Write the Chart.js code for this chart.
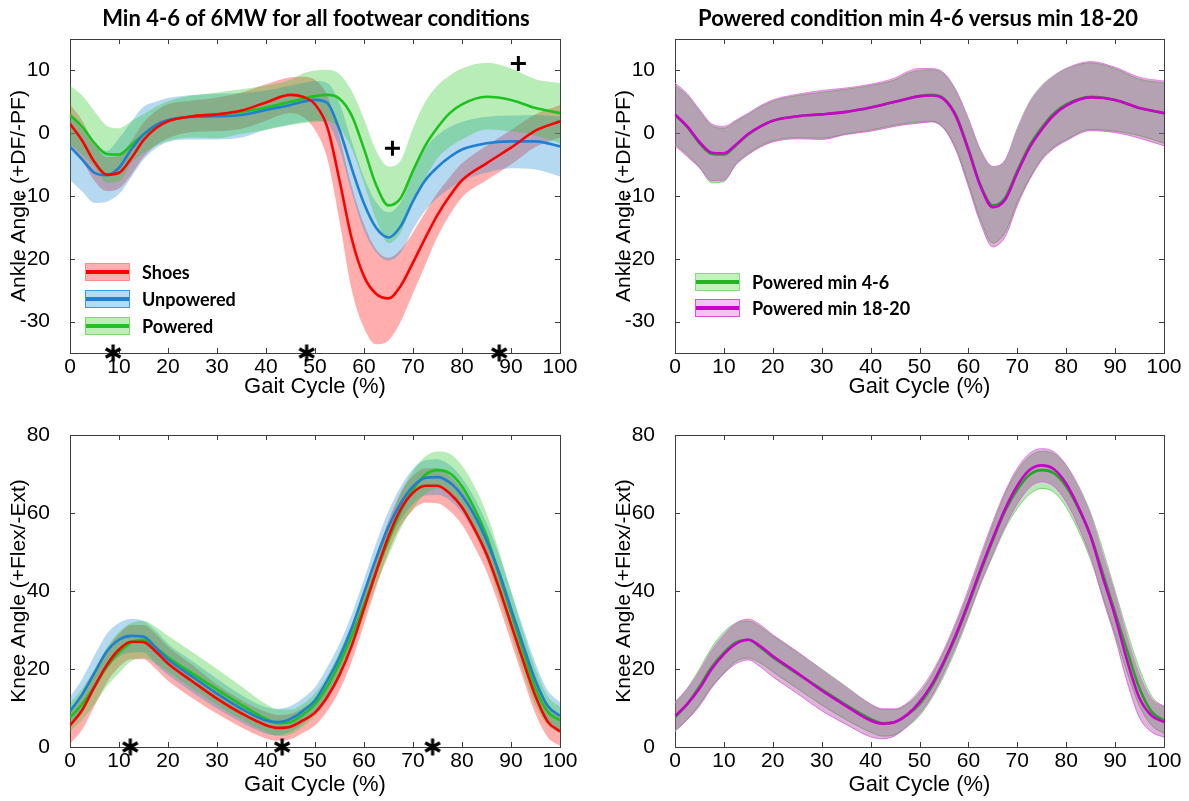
<!DOCTYPE html>
<html><head><meta charset="utf-8">
<script src="https://cdn.jsdelivr.net/npm/chart.js@4.4.1/dist/chart.umd.min.js"></script>
<style>
html,body{margin:0;padding:0;background:#fff;}
#wrap{position:relative;width:1189px;height:801px;overflow:hidden;background:#fff;}
canvas{position:absolute;}
.title{position:absolute;font-family:Lato,'Noto Sans',sans-serif;font-weight:bold;font-size:22px;color:#000;white-space:nowrap;transform:translateX(-50%);line-height:26px;}
.leg{position:absolute;font-family:Lato,'Noto Sans',sans-serif;font-weight:bold;font-size:18px;color:#000;display:flex;align-items:center;white-space:nowrap;height:19px;}
.patch{width:45px;height:18px;position:relative;box-sizing:border-box;margin-right:12px;flex:none;}
.patch span{position:absolute;left:0;right:0;top:50%;height:4px;margin-top:-2px;}
</style></head>
<body><div id="wrap">
<canvas id="c1" width="590" height="400" style="left:0;top:0"></canvas>
<canvas id="c2" width="584" height="400" style="left:605px;top:0"></canvas>
<canvas id="c3" width="590" height="401" style="left:0;top:400px"></canvas>
<canvas id="c4" width="584" height="401" style="left:605px;top:400px"></canvas>
<div class="title" style="left:316px;top:5px">Min 4-6 of 6MW for all footwear conditions</div>
<div class="title" style="left:918px;top:5px">Powered condition min 4-6 versus min 18-20</div>
<div class="leg" style="left:85px;top:262px"><div class="patch" style="background:#fbb1b1;border:1px solid #f88"><span style="background:#ff0000"></span></div>Shoes</div>
<div class="leg" style="left:85px;top:289px"><div class="patch" style="background:#b4dbf4;border:1px solid #3a9ae0"><span style="background:#1f7fd0"></span></div>Unpowered</div>
<div class="leg" style="left:85px;top:316px"><div class="patch" style="background:#bdefb5;border:1px solid #7ad86e"><span style="background:#22c022"></span></div>Powered</div>
<div class="leg" style="left:695px;top:272px"><div class="patch" style="background:#c4f0bf;border:1px solid #86dc7c"><span style="background:#22b422"></span></div>Powered min 4-6</div>
<div class="leg" style="left:695px;top:298px"><div class="patch" style="background:#f2c2f0;border:1px solid #e050e0"><span style="background:#cc00cc"></span></div>Powered min 18-20</div>
</div>
<script>
// ---------- data ----------
const xTicks = [0,10,20,30,40,50,60,70,80,90,100];
const ankleTicks = [-30,-20,-10,0,10];
const kneeTicks = [0,20,40,60,80];

const ankleX = [0,2.5,5,7.5,10,12.5,15,17.5,20,25,30,35,40,45,47.5,50,52.5,55,57.5,60,62.5,65,67.5,70,72.5,75,77.5,80,85,90,95,100];
const ankleShoesMean = [1.5,-1.2,-4.6,-6.6,-6.3,-4.0,-1.1,0.8,1.9,2.7,3.0,3.6,4.9,6.1,5.8,4.6,1.0,-7.5,-16.8,-22.8,-25.6,-26.3,-24.3,-20.6,-16.7,-13.0,-10.0,-7.5,-4.8,-2.3,0.4,1.9];
const ankleShoesUp   = [4.6,2.0,-1.6,-3.8,-3.5,-1.3,1.7,3.5,4.6,5.2,5.7,6.5,7.8,8.9,9.0,8.5,6.0,-0.5,-8.5,-14.5,-18.5,-19.8,-18.5,-15.8,-12.6,-9.5,-7.0,-4.8,-2.0,0.5,3.0,4.5];
const ankleShoesLo   = [-1.6,-4.4,-7.6,-9.2,-8.8,-6.6,-3.8,-1.9,-0.8,0.2,0.3,0.7,2.0,3.2,2.6,0.5,-4.0,-14.0,-25.0,-31.0,-33.6,-33.0,-30.0,-25.5,-21.0,-16.5,-13.0,-10.2,-7.5,-5.0,-2.2,-0.7];
const ankleUnpMean = [-2.1,-4.2,-6.3,-6.7,-5.5,-2.6,-0.2,1.3,2.1,2.6,2.7,2.9,3.7,4.5,5.0,5.3,4.8,0.5,-5.6,-11.2,-15.1,-16.6,-14.8,-10.8,-7.5,-5.4,-3.8,-2.6,-1.6,-1.3,-1.3,-2.1];
const ankleUnpUp   = [3.0,0.5,-2.0,-2.8,-0.8,1.8,4.2,5.0,5.6,6.1,6.3,6.4,6.8,7.6,8.0,8.3,8.0,4.8,-1.3,-7.0,-11.0,-12.6,-11.0,-6.5,-2.5,-0.3,1.0,1.8,2.6,2.8,2.9,2.6];
const ankleUnpLo   = [-7.4,-9.3,-11.1,-10.9,-9.7,-7.0,-4.2,-2.4,-1.4,-1.0,-1.0,-0.7,0.6,1.4,1.8,2.0,1.5,-2.5,-9.5,-15.5,-19.0,-20.3,-19.0,-15.3,-12.3,-10.3,-8.8,-7.6,-6.3,-5.6,-5.8,-6.9];
const anklePowMean = [2.9,1.0,-1.6,-3.3,-3.4,-1.9,-0.2,1.1,2.0,2.7,3.0,3.4,4.1,5.0,5.5,5.9,6.1,5.5,2.8,-2.5,-8.3,-11.5,-10.3,-6.0,-2.0,0.9,3.2,4.6,5.8,5.3,4.0,3.2];
const anklePowUp   = [7.6,6.0,3.5,1.2,0.8,1.9,3.0,4.2,5.1,6.0,6.5,7.0,7.6,8.5,9.5,10.0,10.1,9.4,6.7,2.3,-2.8,-5.3,-4.3,0.8,5.0,7.6,9.2,10.3,11.2,10.3,8.6,8.0];
const anklePowLo   = [-1.7,-3.4,-5.4,-7.9,-7.7,-4.8,-3.2,-2.0,-1.2,-0.7,-0.8,-0.1,0.5,1.3,1.6,1.8,1.9,0.8,-2.5,-8.0,-13.8,-17.5,-15.8,-11.0,-7.2,-4.0,-2.2,-1.0,0.6,0.3,-0.4,-1.6];
const ankleLateMean = [3.0,1.1,-1.4,-3.1,-3.2,-1.8,-0.1,1.1,2.0,2.7,3.0,3.4,4.1,5.0,5.5,5.9,6.0,5.4,2.6,-2.7,-8.5,-11.8,-10.6,-6.3,-2.3,0.6,2.9,4.4,5.7,5.3,4.0,3.2];
const ankleLateUp   = [8.0,6.3,3.8,1.5,1.1,2.1,3.2,4.4,5.3,6.2,6.8,7.2,7.8,8.8,9.8,10.3,10.3,9.6,6.8,2.3,-2.7,-5.3,-4.3,0.5,4.8,7.4,9.1,10.3,11.4,10.5,8.9,8.3];
const ankleLateLo   = [-2.0,-3.7,-5.5,-7.6,-7.5,-5.0,-3.4,-2.2,-1.4,-0.9,-1.0,-0.2,0.3,1.1,1.4,1.6,1.8,0.7,-2.8,-8.5,-14.4,-18.1,-16.5,-11.5,-7.4,-4.3,-2.4,-1.2,0.4,0.1,-0.8,-2.0];

const kneeX = [0,2.5,5,7.5,10,12.5,15,17.5,20,25,30,35,40,42.5,45,47.5,50,52.5,55,57.5,60,62.5,65,67.5,70,72.5,75,77.5,80,82.5,85,87.5,90,92.5,95,97.5,100];
const kneeShoesMean = [5.5,9.5,15.5,21,25,27,26.9,24.5,21.4,16.8,12.4,8.6,5.6,4.9,5.2,6.8,8.8,12.8,18.5,26,35.5,45,54,61,65.2,67,67,65,61.5,56,49.5,41,31.5,22,13,6.5,4];
const kneeShoesUp   = [9.5,13.5,19.5,25,29,31.3,31.3,29,25.8,21,16,12,9,8.2,8.5,10,12.3,16.5,22.5,30,39.5,49,58,65.3,69.6,71.5,71.5,69.5,66,60.5,54,45.5,36,26.5,17.5,10.5,7.8];
const kneeShoesLo   = [0.8,4.5,10.5,16.5,20.5,22.5,22.5,20,17,12.5,8.5,5,2.2,1.6,2,3.6,5.5,9.2,14.5,22,31.5,41,50,56.7,60.8,62.6,62.5,60.5,57,51.5,45,36.5,27,17.5,8.5,2.5,0.3];
const kneeUnpMean = [9.2,13.5,19,24.5,27.5,28.5,28.3,25.5,22.5,18,13.7,9.8,6.8,6.4,7.2,9.2,12,17,23,30.5,39.5,48.5,56.5,62.5,66.8,69,69.2,67.8,64.5,59.5,53,45,35.5,26,17,10.5,8];
const kneeUnpUp   = [12.8,17.5,23.5,29,31.8,32.8,32.3,29.8,26.5,22,17.5,13.3,10.2,9.8,10.5,12.5,15.3,20.5,26.5,34,43,52.3,60.5,66.8,71.3,73.5,73.8,72.3,69,64,57.5,49.5,40,30.5,21.5,14.5,11.5];
const kneeUnpLo   = [5.6,9.5,14.5,20,23.2,24.2,24.3,21.2,18.5,14,9.9,6.3,3.4,3,3.9,5.9,8.7,13.5,19.5,27,36,44.7,52.5,58.2,62.3,64.5,64.6,63.3,60,55,48.5,40.5,31,21.5,12.5,6.5,4.5];
const kneePowMean = [7.6,11,15.5,20.5,24.2,26.8,27.5,25.5,23,18.8,14.8,10.8,7.2,6.1,6.4,8.2,11,15.5,21.5,28.5,36.5,45,53,60.5,66,69.8,71,70.2,66.8,61.2,54.2,44.5,34.5,24.5,15,9,6.8];
const kneePowUp   = [11.2,15,20,25.5,29.5,31.8,32.3,30.8,28.5,24.3,20,15.5,11,9.6,9.6,11,13.8,18.3,24.5,31.5,39.5,48.3,57,65,70.8,74.5,75.8,75.2,72.2,67,60,50.5,40,29.5,20,13,10.3];
const kneePowLo   = [4,7,11,15.5,19,22,22.8,21.5,19.3,15,10.8,7,3.8,2.8,3.2,5.2,8,12.5,18.3,25.3,33.3,41.7,49,56,61.2,64.8,66.3,65.3,61.5,55.5,48,38.5,29,19,10.5,5.5,3.5];
const kneeLateMean = [7.9,11,15,20,23.8,26.5,27.5,25.8,23.3,19,14.5,10.5,6.8,6.0,6.4,8.3,11.5,16,22,29,37,45.5,53.5,61,67,71,72.2,71.2,67.5,61.5,54,43.5,33.5,22,12.5,8,6.4];
const kneeLateUp   = [11.5,15,19.5,24.8,28.8,31.8,32.8,31.3,28.8,24.5,19.8,15.3,11,9.8,9.8,11.3,14.5,19,25,32.3,40.5,49.3,57.8,65.5,71.5,75.3,76.5,75.7,72.3,66.7,59.5,49.3,39.3,28,18.5,12.3,10.5];
const kneeLateLo   = [4.2,7,10.5,15.2,18.8,21.4,22.3,20.5,18,13.7,9.3,5.8,2.6,2.1,2.9,5.3,8.5,13,19,26,33.8,42,49.5,56.5,62.3,66.5,68,66.8,62.8,56.5,48.7,38,28,16.5,7.5,3.8,2.5];

// significance markers
const ankleStarX = [8.8,48.3,87.6];
const anklePlus = [[65.8,-2.4],[91.5,11.1]];
const kneeStarX = [12.3,43.3,74];

// ---------- helpers ----------
const pts = (xs, ys) => xs.map((x,i)=>({x:x, y:ys[i]}));
function band(xs, up, lo, fill, edge, order){
  return [
    {data:pts(xs,up), fill:'+1', backgroundColor:fill, borderColor:edge, borderWidth:edge?1:0, pointRadius:0, cubicInterpolationMode:'monotone', order:order},
    {data:pts(xs,lo), fill:false, borderColor:edge||'rgba(0,0,0,0)', borderWidth:edge?1:0, pointRadius:0, cubicInterpolationMode:'monotone', order:order}
  ];
}
function line(xs, ys, color, order){
  return {data:pts(xs,ys), fill:false, borderColor:color, borderWidth:2.6, pointRadius:0, cubicInterpolationMode:'monotone', order:order};
}
// asterisk glyph used as point style
const starImg = (function(){
  const c = document.createElement('canvas'); c.width = 20; c.height = 20;
  const g = c.getContext('2d'); g.strokeStyle = '#000'; g.lineWidth = 3.2; g.lineCap = 'butt';
  g.beginPath();
  for (const ang of [90, 30, 150]) {
    const r = ang*Math.PI/180, dx = Math.cos(r)*8.5, dy = Math.sin(r)*8.5;
    g.moveTo(10-dx, 10-dy); g.lineTo(10+dx, 10+dy);
  }
  g.stroke();
  return c;
})();
function marks(list, style){
  return {type:'scatter', data:list.map(p=>({x:p[0], y:p[1]})), pointStyle:style, pointRadius:7.5, borderColor:'#000', backgroundColor:'#000', borderWidth:3, clip:false, order:0};
}

const boxPlugin = {
  id:'axbox',
  beforeDatasetsDraw(chart){
    const ctx = chart.ctx, a = chart.chartArea, xs = chart.scales.x, ys = chart.scales.y;
    ctx.save();
    ctx.strokeStyle = '#3c3c3c'; ctx.lineWidth = 1;
    ctx.beginPath();
    xs.ticks.forEach(t=>{ const p = Math.round(xs.getPixelForValue(t.value))+0.5;
      ctx.moveTo(p,a.bottom); ctx.lineTo(p,a.bottom-5); ctx.moveTo(p,a.top); ctx.lineTo(p,a.top+5); });
    ys.ticks.forEach(t=>{ const p = Math.round(ys.getPixelForValue(t.value))+0.5;
      ctx.moveTo(a.left,p); ctx.lineTo(a.left+5,p); ctx.moveTo(a.right,p); ctx.lineTo(a.right-5,p); });
    ctx.stroke();
    ctx.strokeRect(Math.round(a.left)+0.5, Math.round(a.top)+0.5, Math.round(a.right-a.left), Math.round(a.bottom-a.top));
    ctx.restore();
  }
};

const tickFont = {family:"'Liberation Sans', Arial, sans-serif", size:21};
const xTitleFont = {family:"'Liberation Sans', Arial, sans-serif", size:22};
const yTitleFont = {family:"'Liberation Sans', Arial, sans-serif", size:21};

function makeChart(id, datasets, yMin, yMax, yTicks, yTitle, pad, xH){
  return new Chart(document.getElementById(id), {
    type:'line',
    data:{datasets:datasets},
    plugins:[boxPlugin],
    options:{
      responsive:false, animation:false, devicePixelRatio:1,
      layout:{padding:pad},
      plugins:{legend:{display:false}, tooltip:{enabled:false}, title:{display:false}},
      scales:{
        x:{type:'linear', min:0, max:100,
           afterBuildTicks:s=>{ s.ticks = xTicks.map(v=>({value:v})); },
           afterFit:s=>{ s.height = xH; },
           grid:{display:false}, border:{display:false},
           ticks:{font:tickFont, color:'#000', padding:-6, maxRotation:0, autoSkip:false},
           title:{display:true, text:'Gait Cycle (%)', font:xTitleFont, color:'#000', padding:{top:0,bottom:pad.xtb||0}}},
        y:{type:'linear', min:yMin, max:yMax,
           afterBuildTicks:s=>{ s.ticks = yTicks.map(v=>({value:v})); },
           afterFit:s=>{ s.width = 70; },
           grid:{display:false}, border:{display:false},
           ticks:{font:tickFont, color:'#000', padding:12, autoSkip:false},
           title:{display:true, text:yTitle, font:yTitleFont, color:'#000', padding:{top:7,bottom:0}}}
      }
    }
  });
}

const RED='#ff0000', BLUE='#1f7fd0', GREEN='#1ec21e', DGREEN='#1fa81f', MAG='#cc00cc';
const fRed='rgba(255,0,0,0.32)', fBlue='rgba(30,140,210,0.33)', fGreen='rgba(40,200,40,0.33)';
const fGreen2='rgba(60,185,60,0.36)', fMag='rgba(170,40,160,0.36)';

// Top-left: ankle, all conditions
makeChart('c1', [
  ...band(ankleX, ankleShoesUp, ankleShoesLo, fRed, null, 30),
  ...band(ankleX, ankleUnpUp, ankleUnpLo, fBlue, null, 29),
  ...band(ankleX, anklePowUp, anklePowLo, fGreen, null, 28),
  line(ankleX, anklePowMean, GREEN, 5),
  line(ankleX, ankleUnpMean, BLUE, 4),
  line(ankleX, ankleShoesMean, RED, 3),
  marks(ankleStarX.map(x=>[x,-35]), starImg),
  marks(anklePlus, 'cross')
], -35, 15, ankleTicks, 'Ankle Angle (+DF/-PF)', {left:0,right:30,top:39,bottom:0}, 47);

// Top-right: ankle, powered early vs late
makeChart('c2', [
  ...band(ankleX, anklePowUp, anklePowLo, fGreen2, 'rgba(120,220,110,0.9)', 30),
  ...band(ankleX, ankleLateUp, ankleLateLo, fMag, 'rgba(230,120,230,0.9)', 29),
  line(ankleX, anklePowMean, DGREEN, 5),
  line(ankleX, ankleLateMean, MAG, 4)
], -35, 15, ankleTicks, 'Ankle Angle (+DF/-PF)', {left:0,right:25,top:39,bottom:0}, 47);

// Bottom-left: knee, all conditions
makeChart('c3', [
  ...band(kneeX, kneeShoesUp, kneeShoesLo, fRed, null, 30),
  ...band(kneeX, kneeUnpUp, kneeUnpLo, fBlue, null, 29),
  ...band(kneeX, kneePowUp, kneePowLo, fGreen, null, 28),
  line(kneeX, kneePowMean, GREEN, 5),
  line(kneeX, kneeUnpMean, BLUE, 4),
  line(kneeX, kneeShoesMean, RED, 3),
  marks(kneeStarX.map(x=>[x,0]), starImg)
], 0, 80, kneeTicks, 'Knee Angle (+Flex/-Ext)', {left:0,right:30,top:35,bottom:0,xtb:3}, 54);

// Bottom-right: knee, powered early vs late
makeChart('c4', [
  ...band(kneeX, kneePowUp, kneePowLo, fGreen2, 'rgba(120,220,110,0.9)', 30),
  ...band(kneeX, kneeLateUp, kneeLateLo, fMag, 'rgba(230,120,230,0.9)', 29),
  line(kneeX, kneePowMean, DGREEN, 5),
  line(kneeX, kneeLateMean, MAG, 4)
], 0, 80, kneeTicks, 'Knee Angle (+Flex/-Ext)', {left:0,right:25,top:35,bottom:0,xtb:3}, 54);
</script>
</body></html>
